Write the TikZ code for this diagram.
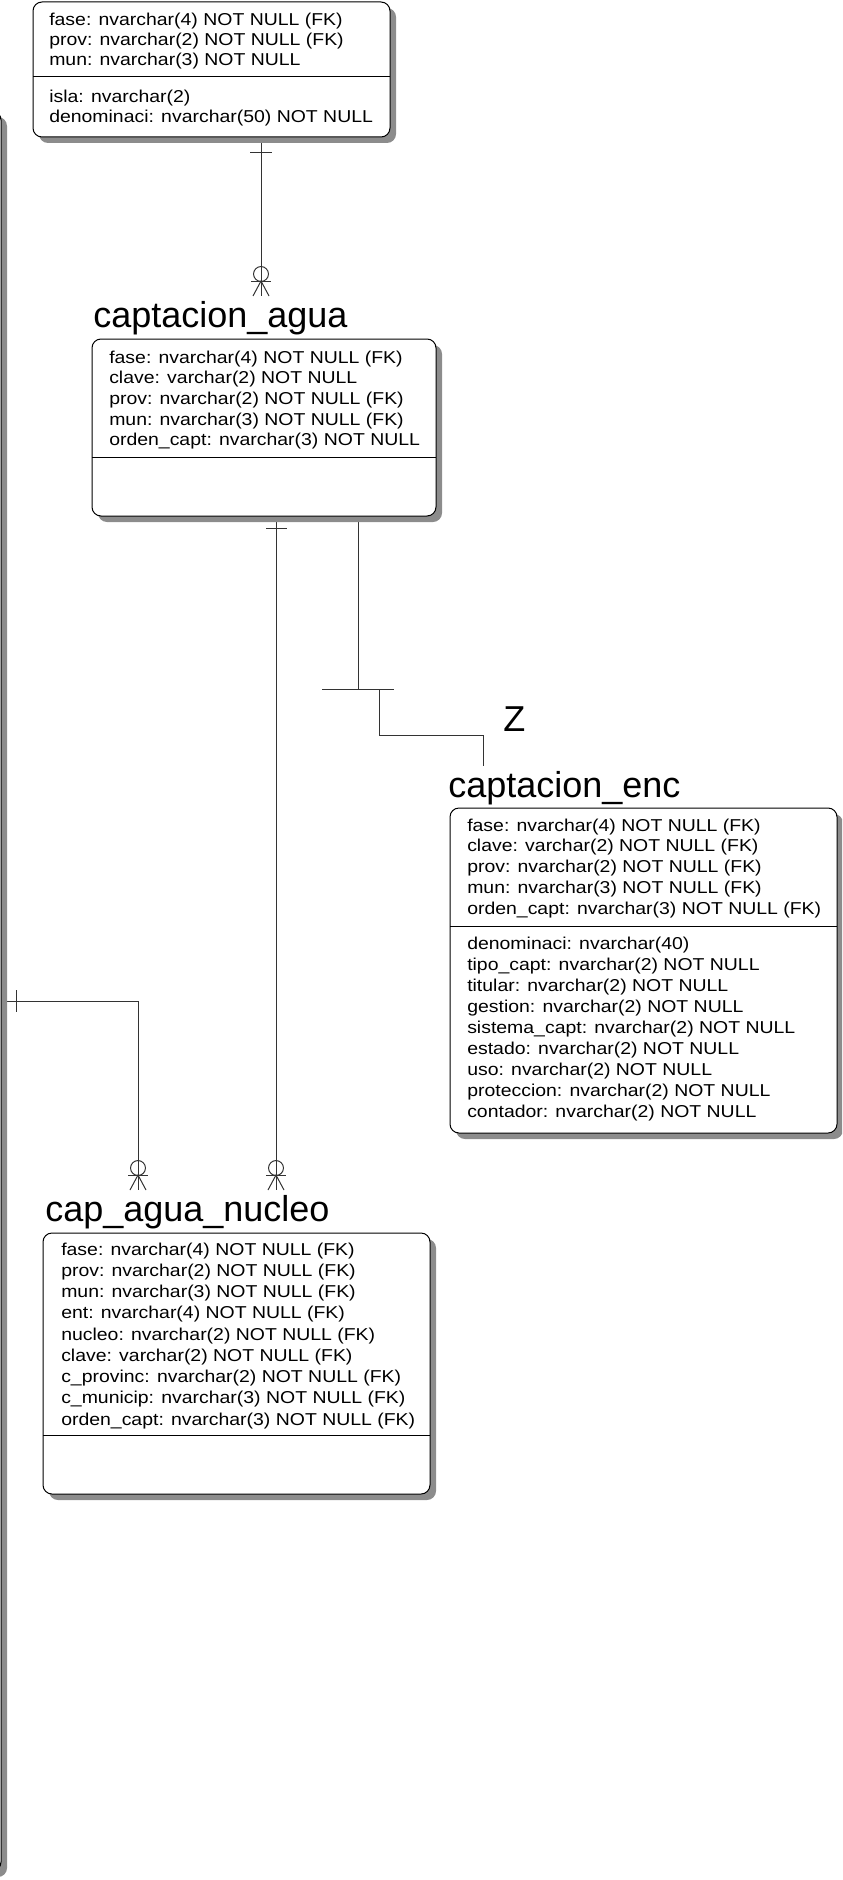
\documentclass[tikz,border=0pt]{standalone}
\usepackage{fontspec}
\setmainfont{Liberation Sans}
\newfontfamily\attrfont{Liberation Sans}[FakeStretch=1.13]
\usetikzlibrary{shadows,backgrounds}
\newlength\PX
\setlength\PX{0.75pt}
\begin{document}
\begin{tikzpicture}[x=0.75pt,y=-0.75pt,
  ent/.style={draw=black, line width=0.75pt, rounded corners=6.75pt, fill=white,
    anchor=north west, inner sep=0pt, outer sep=0pt,
    drop shadow={shadow xshift=4.5pt, shadow yshift=-4.5pt, fill=black!45, opacity=1}},
  attr/.style={anchor=base west, inner sep=0pt, font=\attrfont\fontsize{12.9pt}{15pt}\selectfont},
  etitle/.style={anchor=base west, inner sep=0pt, font=\fontsize{27pt}{30pt}\selectfont},
  conn/.style={line width=0.75pt, draw=black!80},
  sepline/.style={line width=0.75pt, draw=black},
  zm/.pic={
    \draw[conn] (0,-22) circle[radius=5.6pt];
    \draw[conn] (-10,-15) -- (10,-15);
    \draw[conn] (-8,0) -- (0,-15) -- (8,0);
    \draw[conn] (0,-15) -- (0,0);
  }]
\useasboundingbox (0,0) rectangle (842,1880);
\clip (0,0) rectangle (842,1880);

% entity boxes
\node[ent, minimum width=301\PX, minimum height=1760\PX] (left) at (-300,111) {};
\node[ent, minimum width=357\PX, minimum height=135\PX] (e1) at (33,2) {};
\node[ent, minimum width=344\PX, minimum height=177\PX] (agua) at (92,339) {};
\node[ent, minimum width=387\PX, minimum height=325\PX] (enc) at (450,808) {};
\node[ent, minimum width=387\PX, minimum height=261\PX] (nuc) at (43,1233) {};

% separators
\draw[sepline] (e1.west |- 0,77) -- (e1.east |- 0,77);
\draw[sepline] (agua.west |- 0,457) -- (agua.east |- 0,457);
\draw[sepline] (enc.west |- 0,926) -- (enc.east |- 0,926);
\draw[sepline] (nuc.west |- 0,1435) -- (nuc.east |- 0,1435);

% titles
\node[etitle] (taguatitle) at (93,327) {captacion\_agua};
\node[etitle] (tenctitle) at (448,797) {captacion\_enc};
\node[etitle] (tnuctitle) at (45,1221) {cap\_agua\_nucleo};
\node[etitle] (zlab) at (503,731) {Z};

% attributes
\foreach \t [count=\i from 0] in {fase: nvarchar(4) NOT NULL (FK), prov: nvarchar(2) NOT NULL (FK), mun: nvarchar(3) NOT NULL}
  \node[attr] (e1k\i) at (49,26+20*\i) {\t};
\foreach \t [count=\i from 0] in {isla: nvarchar(2), denominaci: nvarchar(50) NOT NULL}
  \node[attr] (e1a\i) at (49,103+20*\i) {\t};

\foreach \t [count=\i from 0] in {fase: nvarchar(4) NOT NULL (FK), clave: varchar(2) NOT NULL, prov: nvarchar(2) NOT NULL (FK), mun: nvarchar(3) NOT NULL (FK), orden\_capt: nvarchar(3) NOT NULL}
  \node[attr] (aguak\i) at (109,363+20.7*\i) {\t};

\foreach \t [count=\i from 0] in {fase: nvarchar(4) NOT NULL (FK), clave: varchar(2) NOT NULL (FK), prov: nvarchar(2) NOT NULL (FK), mun: nvarchar(3) NOT NULL (FK), orden\_capt: nvarchar(3) NOT NULL (FK)}
  \node[attr] (enck\i) at (467,831+20.8*\i) {\t};
\foreach \t [count=\i from 0] in {denominaci: nvarchar(40), tipo\_capt: nvarchar(2) NOT NULL, titular: nvarchar(2) NOT NULL, gestion: nvarchar(2) NOT NULL, sistema\_capt: nvarchar(2) NOT NULL, estado: nvarchar(2) NOT NULL, uso: nvarchar(2) NOT NULL, proteccion: nvarchar(2) NOT NULL, contador: nvarchar(2) NOT NULL}
  \node[attr] (enca\i) at (467,949+21.1*\i) {\t};

\foreach \t [count=\i from 0] in {fase: nvarchar(4) NOT NULL (FK), prov: nvarchar(2) NOT NULL (FK), mun: nvarchar(3) NOT NULL (FK), ent: nvarchar(4) NOT NULL (FK), nucleo: nvarchar(2) NOT NULL (FK), clave: varchar(2) NOT NULL (FK), c\_provinc: nvarchar(2) NOT NULL (FK), c\_municip: nvarchar(3) NOT NULL (FK), orden\_capt: nvarchar(3) NOT NULL (FK)}
  \node[attr] (nuck\i) at (61,1255+21.25*\i) {\t};

% connectors
\coordinate (f1) at (261,296);
\coordinate (f2) at (276,1190);
\coordinate (f3) at (138,1190);
\coordinate (bar) at (358,689);
\coordinate (sub) at (483,766);
\begin{scope}[on background layer]
  \draw[conn] (e1.south -| f1) -- (f1);
  \draw[conn] (agua.south -| f2) -- (f2);
  \draw[conn] (left.east |- 0,1001) -- (138,1001) -- (f3);
  \draw[conn] (agua.south -| bar) -- (bar);
\end{scope}
\draw[conn] (250,153) -- (272,153);
\draw[conn] (266,528) -- (287,528);
\draw[conn] (16,990) -- (16,1012);
\pic at (f1) {zm};
\pic at (f2) {zm};
\pic at (f3) {zm};
\draw[conn] (322,689) -- (394,689);
\draw[conn] (379,689) -- (379,735) -- (sub |- 0,735) -- (sub);
\end{tikzpicture}
\end{document}
